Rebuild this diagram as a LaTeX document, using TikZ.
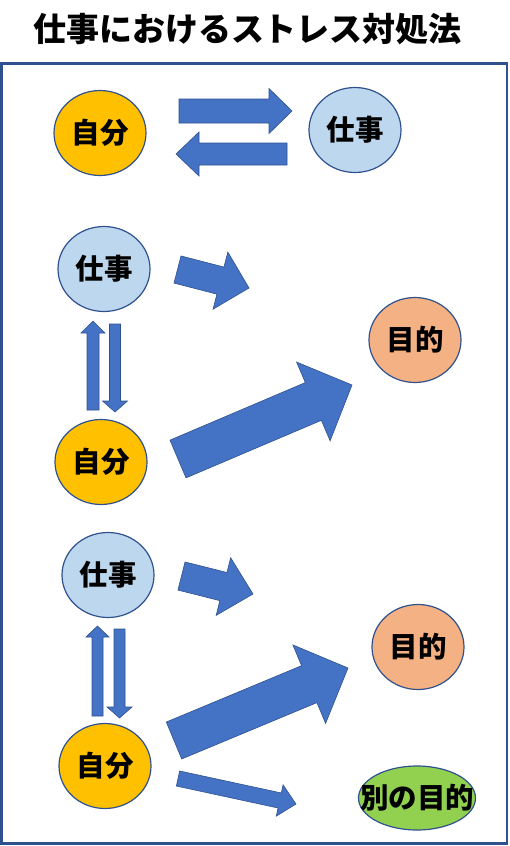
\documentclass[tikz,border=0pt]{standalone}
\usepackage{fontspec}
\setmainfont{Noto Sans CJK JP}
\usetikzlibrary{shapes.geometric,calc}
\definecolor{arrowblue}{HTML}{4472C4}
\definecolor{edgeblue}{HTML}{2F528F}
\definecolor{selfgold}{HTML}{FFC000}
\definecolor{worklight}{HTML}{BDD7EE}
\definecolor{goalorange}{HTML}{F4B183}
\definecolor{othergreen}{HTML}{92D050}
% #1 tail coordinate, #2 tip coordinate, #3 half body width, #4 half head width, #5 head length
\newcommand\blockarrow[5]{%
  \coordinate (hb) at ($(#2)!#5pt!(#1)$);
  \draw[fatarrow] ($(#1)!#3pt!90:(#2)$) -- ($(hb)!#3pt!90:(#2)$) -- ($(hb)!#4pt!90:(#2)$)
    -- (#2) -- ($(hb)!#4pt!-90:(#2)$) -- ($(hb)!#3pt!-90:(#2)$) -- ($(#1)!#3pt!-90:(#2)$) -- cycle;
}
\begin{document}
\begin{tikzpicture}[x=1pt,y=-1pt,
  bubble/.style={ellipse,draw=edgeblue,line width=1.2pt,inner sep=0pt,minimum width=92pt,minimum height=85pt,font=\bfseries\fontsize{28.5}{28.5}\selectfont},
  fatarrow/.style={fill=arrowblue,draw=edgeblue,line width=0.6pt,line join=miter}]
\useasboundingbox (0,0) rectangle (509,846);
\node[font=\bfseries\fontsize{33}{33}\selectfont] (title) at (247.5,29) {仕事におけるストレス対処法};
\draw[edgeblue,line width=2.5pt] (1.5,63.5) rectangle (507,843.5);
% row 1
\node[bubble,fill=selfgold] (self1) at (100,133) {自分};
\node[bubble,fill=worklight] (work1) at (355,130) {仕事};
\coordinate (a1t) at (179,111); \coordinate (a1h) at (292,111);
\coordinate (a2t) at (287,154); \coordinate (a2h) at (176,154);
\blockarrow{a1t}{a1h}{12}{22.5}{23}
\blockarrow{a2t}{a2h}{11}{22}{23}
% row 2
\node[bubble,fill=worklight] (work2) at (104,269) {仕事};
\node[bubble,fill=selfgold] (self2) at (101,462) {自分};
\node[bubble,fill=goalorange] (goal2) at (415,340) {目的};
\coordinate (b1t) at (177.5,269.5); \coordinate (b1h) at (249,288);
\coordinate (b2t) at (178,459); \coordinate (b2h) at (352,385);
\coordinate (b3t) at (93,410); \coordinate (b3h) at (93,321);
\coordinate (b4t) at (115,324); \coordinate (b4h) at (115,412);
\blockarrow{b1t}{b1h}{14}{29.5}{29.5}
\blockarrow{b2t}{b2h}{20.5}{42.8}{42}
\blockarrow{b3t}{b3h}{6}{12}{12}
\blockarrow{b4t}{b4h}{5.5}{12.5}{11}
% row 3
\node[bubble,fill=worklight] (work3) at (108,575) {仕事};
\node[bubble,fill=selfgold] (self3) at (105,766) {自分};
\node[bubble,fill=goalorange] (goal3) at (418,647) {目的};
\node[bubble,fill=othergreen,minimum width=117pt,minimum height=64pt] (other3) at (417,798) {\makebox[0pt]{別の目的}};
\coordinate (c1t) at (181.5,576); \coordinate (c1h) at (253,594);
\coordinate (c2t) at (174,740.5); \coordinate (c2h) at (348,668);
\coordinate (c3t) at (178,778.5); \coordinate (c3h) at (296,804);
\coordinate (c4t) at (97.5,716); \coordinate (c4h) at (97.5,626);
\coordinate (c5t) at (119.5,629); \coordinate (c5h) at (119.5,718);
\blockarrow{c1t}{c1h}{14.5}{29.7}{30.5}
\blockarrow{c2t}{c2h}{20}{42.5}{42}
\blockarrow{c3t}{c3h}{7.7}{16}{16.7}
\blockarrow{c4t}{c4h}{5.5}{11.5}{11}
\blockarrow{c5t}{c5h}{5.5}{12.5}{11}
\end{tikzpicture}
\end{document}
